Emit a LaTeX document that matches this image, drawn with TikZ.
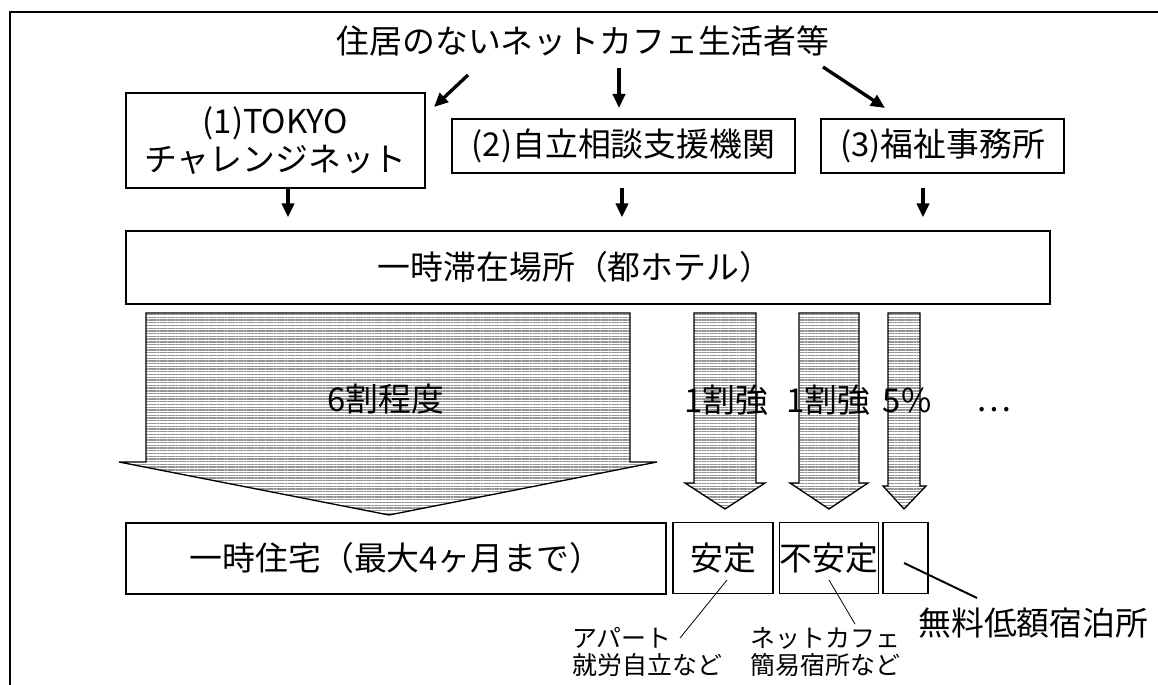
\documentclass[tikz,border=0pt]{standalone}
\usepackage{fontspec}
\setmainfont{Noto Sans CJK JP}
\usetikzlibrary{arrows.meta,patterns.meta}
\begin{document}
\begin{tikzpicture}[x=0.02cm,y=-0.02cm,
  box/.style={draw, line width=0.75pt, inner sep=0pt, font=\fontsize{18.7}{21.5}\selectfont, align=center},
  conn/.style={line width=1.9pt, -{Triangle[length=8pt,width=7pt]}},
  hatch/.style={draw, line width=0.75pt, pattern={Lines[angle=0,distance=1.55pt,line width=0.75pt]}, pattern color=black!42},
  lbl/.style={font=\fontsize{18.7}{21.5}\selectfont, inner sep=0pt},
  small/.style={font=\fontsize{14.2}{15.3}\selectfont, inner sep=0pt, align=left, anchor=west},
  lead/.style={line width=0.45pt}]
\useasboundingbox (0,0) rectangle (1158,685);
% outer frame (cut by the page on the right and bottom)
\draw[line width=1.1pt] (10,700) -- (10,12) -- (1170,12);

% title
\node[lbl] (title) at (583,41) {住居のないネットカフェ生活者等};

% three entry points
\node[box, minimum width=5.98cm, minimum height=1.9cm] (b1) at (275.5,140.5) {(1)TOKYO\\チャレンジネット};
\node[box, minimum width=6.86cm, minimum height=1.08cm] (b2) at (623.5,146) {(2)自立相談支援機関};
\node[box, minimum width=4.86cm, minimum height=1.08cm] (b3) at (942.5,146) {(3)福祉事務所};

% arrows from the title
\coordinate (a1s) at (468,75); \coordinate (a1e) at (434,107);
\coordinate (a2s) at (619,68); \coordinate (a2e) at (619,108);
\coordinate (a3s) at (823,67); \coordinate (a3e) at (885,108);
\draw[conn] (a1s) -- (a1e);
\draw[conn] (a2s) -- (a2e);
\draw[conn] (a3s) -- (a3e);

% hotel
\node[box, minimum width=18.48cm, minimum height=1.46cm] (hotel) at (588,267.5) {};
\node[lbl] (hoteltxt) at (575,267) {一時滞在場所（都ホテル）};

% arrows to hotel
\coordinate (x1) at (288,0); \coordinate (x2) at (622,0); \coordinate (x3) at (923,0);
\draw[conn, shorten >=7.4pt] (b1.south -| x1) -- (hotel.north -| x1);
\draw[conn, shorten <=8pt, shorten >=7.4pt] (b2.south -| x2) -- (hotel.north -| x2);
\draw[conn, shorten <=8pt, shorten >=7.4pt] (b3.south -| x3) -- (hotel.north -| x3);

% hatched flow arrows
\path[hatch] (146,313) -- (630,313) -- (630,462) -- (657,462) -- (389,515) -- (119,462) -- (146,462) -- cycle;
\path[hatch] (694,313) -- (756,313) -- (756,483) -- (765,483) -- (725,509) -- (685,483) -- (694,483) -- cycle;
\path[hatch] (799,313) -- (859,313) -- (859,483) -- (868,483) -- (829,509) -- (790,483) -- (799,483) -- cycle;
\path[hatch] (888,313) -- (920,313) -- (920,486) -- (926,486) -- (904,509) -- (883,486) -- (888,486) -- cycle;

\node[lbl] (p1) at (386,399) {6割程度};
\node[lbl] (p2) at (726,400) {1割強};
\node[lbl] (p3) at (828,400) {1割強};
\node[lbl] (p4) at (907,400) {5\%};
\node[lbl] (p5) at (994,410) {…};

% outcome boxes
\node[box, minimum width=10.8cm, minimum height=1.42cm] (home) at (396,558.5) {一時住宅（最大4ヶ月まで）};
\node[box, minimum width=2.0cm, minimum height=1.42cm] (stable) at (723,558) {安定};
\node[box, minimum width=1.96cm, minimum height=1.42cm] (unstable) at (829,558) {不安定};
\node[box, minimum width=0.9cm, minimum height=1.42cm] (free) at (905.5,558) {};

% leader lines and labels
\coordinate (l1s) at (727,580); \coordinate (l1e) at (680,638);
\coordinate (l2s) at (829,580); \coordinate (l2e) at (855,624);
\coordinate (l3s) at (904,563); \coordinate (l3e) at (977,598);
\draw[lead] (l1s) -- (l1e);
\draw[lead] (l2s) -- (l2e);
\draw[line width=1.1pt] (l3s) -- (l3e);

\node[small] (n1) at (572,652) {アパート\\就労自立など};
\node[small] (n2) at (750,652) {ネットカフェ\\簡易宿所など};
\node[lbl, anchor=west] (n3) at (918,623) {無料低額宿泊所};
\end{tikzpicture}
\end{document}
